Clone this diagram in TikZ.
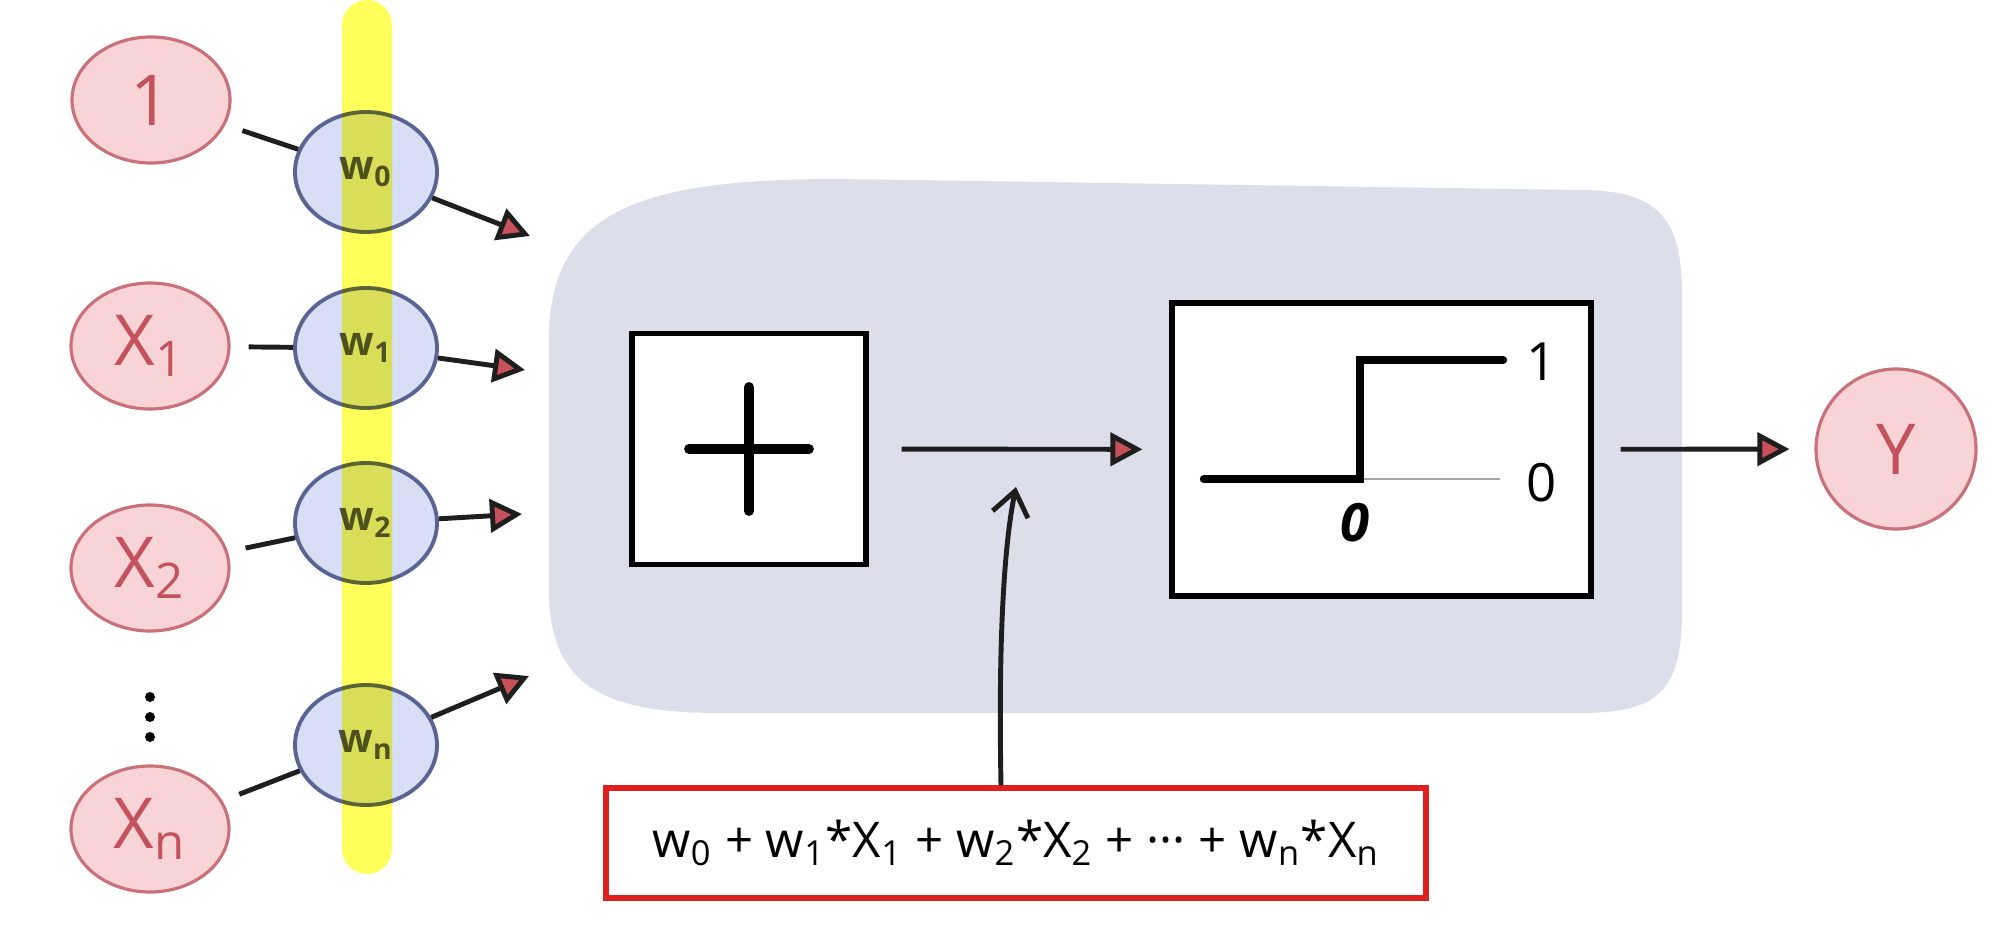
\documentclass[tikz,border=0pt]{standalone}
\usepackage{fontspec}
\setmainfont{Open Sans}
\usepackage{tikz}
\usetikzlibrary{arrows.meta}
\usetikzlibrary{shapes.geometric}
\definecolor{inpfill}{HTML}{F9D4D6}
\definecolor{inpline}{HTML}{C9707A}
\definecolor{inptext}{HTML}{C4525C}
\definecolor{wgtfill}{HTML}{D8DEF3}
\definecolor{wgtline}{HTML}{5A6494}
\definecolor{wgttext}{HTML}{505050}
\definecolor{barfill}{HTML}{FFFF5C}
\definecolor{panel}{HTML}{DCDEEA}
\definecolor{tipred}{HTML}{C8505A}
\definecolor{boxred}{HTML}{E0201E}
\definecolor{linkgray}{HTML}{1E1E1E}
\tikzset{>={Triangle[length=3.2mm,width=3.3mm,fill=tipred]}}
\tikzset{
  inp/.style={ellipse,draw=inpline,fill=inpfill,text=inptext,line width=0.9pt,
    minimum width=1.58cm,minimum height=1.26cm,inner sep=0pt,font=\fontsize{20}{24}\selectfont},
  wgt/.style={ellipse,draw=wgtline,fill=wgtfill,text=wgttext,line width=1.1pt,
    minimum width=1.42cm,minimum height=1.2cm,inner sep=0pt,font=\fontsize{11.5}{13}\selectfont\bfseries},
  box/.style={draw=black,fill=white,line width=1.5pt,inner sep=0pt},
  link/.style={line width=1.4pt,draw=linkgray},
}

\begin{document}
\begin{tikzpicture}
\useasboundingbox (0,0) rectangle (20,-9.44);
% grey unit
\fill[panel] (5.49,-3.4) .. controls (5.49,-2.1) and (6.4,-1.79) .. (8.4,-1.79) -- (15.8,-1.90)
  .. controls (16.6,-1.90) and (16.82,-2.2) .. (16.82,-2.95) -- (16.82,-6.1)
  .. controls (16.82,-6.9) and (16.6,-7.13) .. (15.8,-7.13) -- (7.2,-7.13)
  .. controls (6.1,-7.13) and (5.49,-6.9) .. (5.49,-5.9) -- cycle;
% inputs
\node[inp] (i0) at (1.51,-1.00) {1};
\node[inp] (i1) at (1.50,-3.46) {X\textsubscript{1}};
\node[inp] (i2) at (1.50,-5.68) {X\textsubscript{2}};
\node[inp] (in) at (1.50,-8.29) {X\textsubscript{n}};
\foreach \y in {-6.97,-7.17,-7.37} \fill (1.50,\y) circle (0.05);
% weights
\node[wgt] (w0) at (3.66,-1.72) {w\textsubscript{0}};
\node[wgt] (w1) at (3.66,-3.48) {w\textsubscript{1}};
\node[wgt] (w2) at (3.66,-5.23) {w\textsubscript{2}};
\node[wgt] (wn) at (3.66,-7.45) {w\textsubscript{n}};
\coordinate (t0) at (5.30,-2.36);
\coordinate (t1) at (5.25,-3.70);
\coordinate (t2) at (5.22,-5.14);
\coordinate (tn) at (5.29,-6.76);
\foreach \k in {0,1,2,n} {
  \draw[link,shorten <=0.18cm] (i\k) -- (w\k);
  \draw[link,->] (w\k) -- (t\k);
}
\fill[barfill,blend mode=multiply,rounded corners=0.25cm] (3.42,0) rectangle (3.92,-8.74);
% sum and step
\node[box,minimum width=2.34cm,minimum height=2.31cm] (sum) at (7.49,-4.49) {};
\draw[line width=2.8pt,line cap=round] ([xshift=-0.6cm]sum.center) -- ([xshift=0.6cm]sum.center)
  ([yshift=0.62cm]sum.center) -- ([yshift=-0.62cm]sum.center);
\node[box,minimum width=4.19cm,minimum height=2.93cm] (act) at (13.815,-4.495) {};
\draw[gray!70,line width=0.7pt] (13.60,-4.79) -- (15.00,-4.79);
\draw[line width=2.4pt,line cap=round] (12.04,-4.79) -- (13.60,-4.79) -- (13.60,-3.60) -- (15.03,-3.60);
\node[font=\fontsize{15}{18}\selectfont] (one) at (15.42,-3.62) {1};
\node[font=\fontsize{15}{18}\selectfont] (zero) at (15.42,-4.83) {0};
\node[font=\fontsize{15}{18}\selectfont\bfseries\itshape] (thr) at (13.55,-5.23) {0};
% output
\node[inp,minimum width=1.6cm,minimum height=1.6cm] (out) at (18.96,-4.49) {Y};
\draw[link,->,shorten <=0.33cm,shorten >=0.27cm] (sum) -- (act);
\draw[link,->,shorten <=0.27cm,shorten >=0.25cm] (act) -- (out);
% weighted sum
\node[draw=boxred,line width=1.5pt,minimum width=8.2cm,minimum height=1.1cm,
  font=\fontsize{14}{17}\selectfont] (wsum) at (10.16,-8.43)
  {w\textsubscript{0} + w\textsubscript{1}*X\textsubscript{1} + w\textsubscript{2}*X\textsubscript{2}
   + \textperiodcentered\textperiodcentered\textperiodcentered{} + w\textsubscript{n}*X\textsubscript{n}};
\coordinate (hint) at (10.16,-4.87);
\draw[link,-{Straight Barb[length=2.4mm,width=3.6mm]}] ([xshift=-0.15cm]wsum.north)
  .. controls (9.98,-6.3) and (10.05,-5.4) .. (hint);
\end{tikzpicture}
\end{document}
